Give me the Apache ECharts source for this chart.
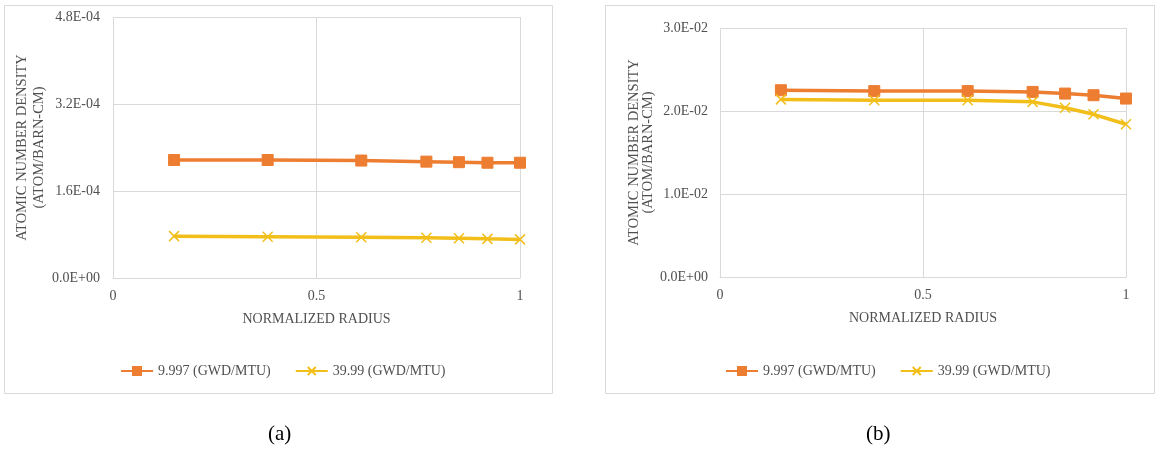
<!DOCTYPE html>
<html>
<head>
<meta charset="utf-8">
<style>
  html, body { margin: 0; padding: 0; background: #ffffff; }
  #chart { width: 1163px; height: 456px; }
</style>
<script src="https://cdn.jsdelivr.net/npm/echarts@6/dist/echarts.min.js"></script>
</head>
<body>
<div id="chart"></div>
<script>
// ---- data ----
const radius = [0.15, 0.38, 0.61, 0.77, 0.85, 0.92, 1.0];
const seriesNames = ['9.997 (GWD/MTU)', '39.99 (GWD/MTU)'];
const aLow = [2.17e-4, 2.17e-4, 2.16e-4, 2.14e-4, 2.13e-4, 2.12e-4, 2.12e-4];
const aHigh = [0.77e-4, 0.76e-4, 0.75e-4, 0.74e-4, 0.73e-4, 0.72e-4, 0.71e-4];
const bLow = [0.0225, 0.0224, 0.0224, 0.0223, 0.0221, 0.0219, 0.0215];
const bHigh = [0.0214, 0.0213, 0.0213, 0.0211, 0.0204, 0.0196, 0.0184];
const xTitle = 'NORMALIZED RADIUS';
const yTitle = 'ATOMIC NUMBER DENSITY\n(ATOM/BARN-CM)';
const panelLabels = ['(a)', '(b)'];

const FONT = '"Liberation Serif", "Times New Roman", serif';
const TXT = '#505050';
const GRID = '#d9d9d9';
const ORANGE = '#ED7D31';
const YELLOW = '#F2BE1A';
const XMARK = 'path://M0,0L10,10M10,0L0,10';

function sci(v) {
  let s = Number(v).toExponential(1);
  let parts = s.split('e');
  let m = parts[0];
  let e = parseInt(parts[1], 10);
  let sign = e < 0 ? '-' : '+';
  let ae = Math.abs(e);
  return m + 'E' + sign + (ae < 10 ? '0' + ae : '' + ae);
}

function pairs(xs, ys) { return xs.map((x, i) => [x, ys[i]]); }

function xAxisCfg(gi) {
  return {
    type: 'value', gridIndex: gi, min: 0, max: 1, interval: 0.5,
    name: xTitle, nameLocation: 'middle', nameGap: 34,
    nameTextStyle: { fontFamily: FONT, fontSize: 14, color: TXT },
    axisLine: { show: true, lineStyle: { color: GRID, width: 1 } },
    axisTick: { show: false },
    axisLabel: { fontFamily: FONT, fontSize: 14, color: TXT, margin: 11 },
    splitLine: { show: true, lineStyle: { color: GRID, width: 1 } }
  };
}
function yAxisCfg(gi, max, interval, lh, margin, gap) {
  return {
    type: 'value', gridIndex: gi, min: 0, max: max, interval: interval,
    name: yTitle, nameLocation: 'middle', nameGap: gap,
    nameTextStyle: { fontFamily: FONT, fontSize: 14.5, color: TXT, lineHeight: lh, align: 'center' },
    axisLine: { show: false }, axisTick: { show: false },
    axisLabel: { fontFamily: FONT, fontSize: 14, color: TXT, margin: margin, formatter: sci },
    splitLine: { show: true, lineStyle: { color: GRID, width: 1 } }
  };
}
function lowSeries(gi, data) {
  return {
    name: seriesNames[0], type: 'line', xAxisIndex: gi, yAxisIndex: gi,
    data: pairs(radius, data), symbol: 'rect', symbolSize: 11,
    lineStyle: { color: ORANGE, width: 3.5 },
    itemStyle: { color: ORANGE, borderColor: ORANGE, borderWidth: 1 },
    animation: false
  };
}
function highSeries(gi, data) {
  return {
    name: seriesNames[1], type: 'line', xAxisIndex: gi, yAxisIndex: gi,
    data: pairs(radius, data), symbol: XMARK, symbolSize: 10,
    lineStyle: { color: YELLOW, width: 3.5 },
    itemStyle: { color: YELLOW, borderColor: YELLOW, borderWidth: 1.5 },
    animation: false
  };
}
function legendCfg(left) {
  return {
    left: left, top: 359, data: seriesNames, itemWidth: 32, itemHeight: 10, itemGap: 24,
    textStyle: { fontFamily: FONT, fontSize: 14, color: TXT }
  };
}

const chart = echarts.init(document.getElementById('chart'), null, { renderer: 'canvas' });
chart.setOption({
  backgroundColor: '#ffffff',
  animation: false,
  grid: [
    { left: 113, top: 17, width: 407, height: 261 },
    { left: 720, top: 28, width: 406, height: 249 }
  ],
  xAxis: [xAxisCfg(0), xAxisCfg(1)],
  yAxis: [yAxisCfg(0, 4.8e-4, 1.6e-4, 17, 13, 60), yAxisCfg(1, 0.03, 0.01, 14, 12, 62)],
  legend: [legendCfg(115), legendCfg(720)],
  series: [lowSeries(0, aLow), highSeries(0, aHigh), lowSeries(1, bLow), highSeries(1, bHigh)],
  graphic: [
    { type: 'rect', shape: { x: 4.5, y: 5.5, width: 548, height: 388 }, style: { fill: null, stroke: GRID, lineWidth: 1 }, z: -1 },
    { type: 'rect', shape: { x: 605.5, y: 5.5, width: 549, height: 388 }, style: { fill: null, stroke: GRID, lineWidth: 1 }, z: -1 },
    { type: 'text', left: 268, top: 424, style: { text: panelLabels[0], font: '21px ' + FONT, fill: '#000000' } },
    { type: 'text', left: 866, top: 424, style: { text: panelLabels[1], font: '21px ' + FONT, fill: '#000000' } }
  ]
});
</script>
</body>
</html>
